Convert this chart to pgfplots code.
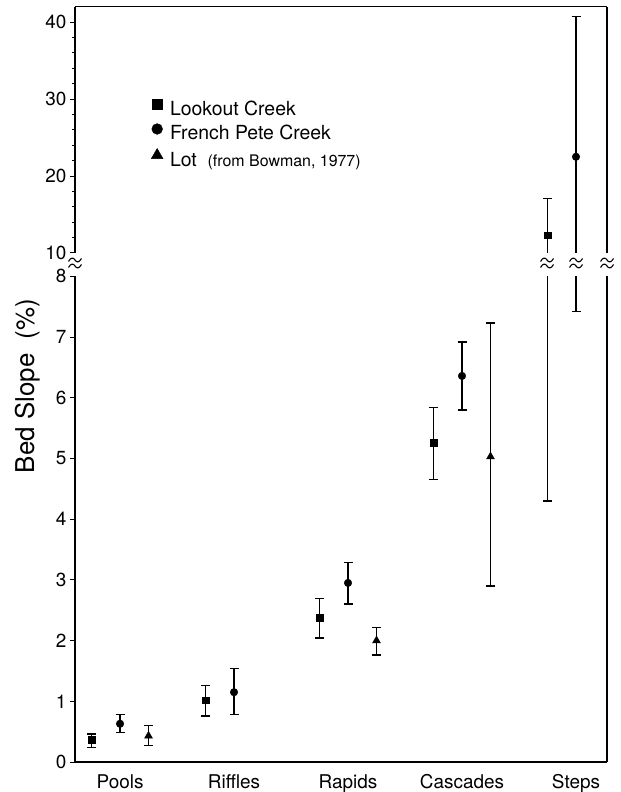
\documentclass[border=0pt]{standalone}
\usepackage{pgfplots}
\pgfplotsset{compat=1.18}
\usepackage{pgfplotstable}
\usepackage{fontspec}
\setmainfont{TeX Gyre Heros}

% x: category index (0 Pools ... 4 Steps), offsets -0.25 / 0 / +0.25
\pgfplotstableread{
x y ep em
-0.25 0.37 0.09 0.13
0.75 1.02 0.24 0.26
1.75 2.38 0.31 0.34
2.75 5.26 0.58 0.61
3.75 12.3 4.75 8.0
}\lookout
\pgfplotstableread{
x y ep em
0 0.63 0.15 0.14
1 1.15 0.39 0.37
2 2.95 0.34 0.35
3 6.36 0.56 0.56
4 22.5 18.2 15.08
}\french
\pgfplotstableread{
x y ep em
0.25 0.43 0.17 0.16
2.25 2.00 0.22 0.24
3.25 5.03 2.20 2.13
}\lot

\pgfplotsset{
  common/.style={
    scale only axis, width=532bp, xmin=-0.395, xmax=4.272,
    axis line style={line width=1.4bp},
    tick align=outside, major tick length=5bp, minor tick length=3bp,
    every tick/.style={black, line width=1bp},
    /pgf/number format/assume math mode=true,
    yticklabel style={font=\fontsize{19}{22}\selectfont},
  },
  eb/.style={error bars/y dir=both, error bars/y explicit,
    error bars/error bar style={line width=1.8bp, black},
    error bars/error mark options={rotate=90, mark size=4.5bp, line width=1.4bp, black}},
  sq/.style={only marks, black, mark=square*, mark size=3.3bp, eb},
  ci/.style={only marks, black, mark=*, mark size=3.8bp, eb},
  tr/.style={only marks, black, mark=triangle*, mark size=4.6bp, eb},
}

\newcommand{\brk}[2]{%
  \begin{scope}[shift={(#1,#2)}, line width=1.1bp]
    \draw (-6.5bp,1.5bp) .. controls (-4bp,6bp) and (-1.5bp,5.5bp) .. (0bp,3bp) .. controls (1.5bp,0.5bp) and (4bp,0bp) .. (6.5bp,4.5bp);
    \draw (-6.5bp,-4.5bp) .. controls (-4bp,0bp) and (-1.5bp,-0.5bp) .. (0bp,-3bp) .. controls (1.5bp,-5.5bp) and (4bp,-6bp) .. (6.5bp,-1.5bp);
  \end{scope}}

\begin{document}
\begin{tikzpicture}
\useasboundingbox (0,0) rectangle (621bp,792bp);

\begin{axis}[common, name=low, at={(75bp,30bp)}, anchor=south west,
  height=485.6bp, ymin=0, ymax=8, ytick={0,1,...,8},
  axis x line*=bottom, axis y line*=left,
  xtick={0,1,2,3,4}, xticklabels={Pools,Riffles,Rapids,Cascades,Steps},
  major x tick style={draw=none},
  xticklabel style={font=\fontsize{19}{22}\selectfont, yshift=-4bp}]
\addplot[sq] table[x=x, y=y, y error plus=ep, y error minus=em] {\lookout};
\addplot[ci] table[x=x, y=y, y error plus=ep, y error minus=em] {\french};
\addplot[tr] table[x=x, y=y, y error plus=ep, y error minus=em] {\lot};
\end{axis}

\begin{axis}[common, name=up, at={(75bp,539bp)}, anchor=south west,
  height=246.3bp, ymin=10, ymax=42, ytick={10,20,30,40}, minor y tick num=4,
  axis x line*=top, axis y line*=left, xtick=\empty,
  legend style={draw=none, fill=none, inner sep=0pt,
    at={(axis description cs:0.143,0.6265)}, anchor=north west,
    font=\fontsize{19.5}{22}\selectfont, row sep=4.5bp,
    /tikz/every odd column/.append style={column sep=5bp},
    nodes={text height=13bp, text depth=4bp, inner ysep=0pt}},
  legend cell align=left,
  legend image code/.code={\draw[#1] plot coordinates {(0bp,6.5bp)};}]
\addplot[forget plot, sq] table[x=x, y=y, y error plus=ep, y error minus=em] {\lookout};
\addplot[forget plot, ci] table[x=x, y=y, y error plus=ep, y error minus=em] {\french};
\addplot[forget plot, tr] table[x=x, y=y, y error plus=ep, y error minus=em] {\lot};
\addlegendimage{only marks, mark=square*, mark size=5.2bp, black}
\addlegendentry{Lookout Creek}
\addlegendimage{only marks, mark=*, mark size=5.4bp, black}
\addlegendentry{French Pete Creek}
\addlegendimage{only marks, mark=triangle*, mark size=6.8bp, black}
\addlegendentry{Lot~~{\fontsize{16}{18}\selectfont(from Bowman, 1977)}}
\end{axis}

\draw[line width=1.4bp] (low.south east) -- (low.north east);
\draw[line width=1.4bp] (up.south east) -- (up.north east);

\node[rotate=90, font=\fontsize{26}{30}\selectfont] at (28bp,406bp) {Bed Slope\ \ (\%)};

\brk{75bp}{529bp}
\brk{547bp}{529bp}
\brk{576bp}{529bp}
\brk{607bp}{529bp}
\end{tikzpicture}
\end{document}
